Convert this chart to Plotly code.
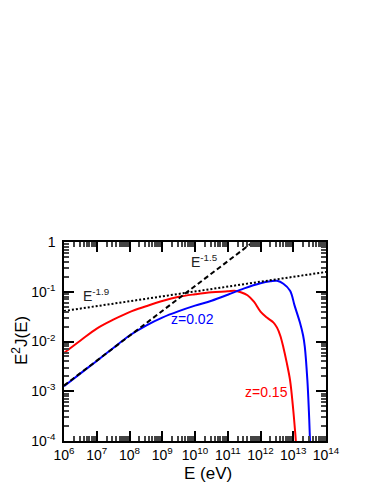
import plotly.graph_objects as go

# blue curve, z = 0.02
blue_e = [1e6, 3.2e6, 1e7, 3.2e7, 1e8, 3.2e8, 1e9, 3.2e9, 1e10, 3.2e10, 1e11, 3.2e11,
          1e12, 2e12, 3.2e12, 5e12, 8e12, 1.1e13, 1.6e13, 2e13, 2.25e13, 2.7e13,
          3e13, 3.25e13, 3.4e13]
blue_j = [1.26e-3, 2.29e-3, 4.07e-3, 7.4e-3, 1.32e-2, 2.09e-2, 3.02e-2, 4.07e-2,
          5.25e-2, 6.6e-2, 8.7e-2, 0.117, 0.148, 0.162, 0.166, 0.145, 0.105,
          0.0525, 0.024, 0.0132, 7.9e-3, 1.66e-3, 4e-4, 1e-4, 3.2e-5]

# red curve, z = 0.15
red_e = [1e6, 3.2e6, 1e7, 3.2e7, 1e8, 3.2e8, 1e9, 3.2e9, 1e10, 3.2e10, 1e11, 1.6e11,
         2.5e11, 4e11, 6.3e11, 1e12, 1.6e12, 2.5e12, 3.2e12, 4e12, 5e12, 6.3e12,
         8e12, 1e13, 1.12e13, 1.2e13, 1.26e13]
red_j = [5.9e-3, 1.05e-2, 1.82e-2, 2.75e-2, 3.9e-2, 5.1e-2, 6.5e-2, 7.9e-2, 8.9e-2,
         9.8e-2, 0.102, 0.105, 0.098, 0.085, 0.063, 0.040, 0.030, 0.024, 0.019,
         0.0132, 7.6e-3, 3.8e-3, 1.66e-3, 4.2e-4, 1.78e-4, 1e-4, 5e-5]

# reference power laws (end points)
slope15_e = [1e6, 1e12]
slope15_j = [1.3e-3, 1.3]
slope19_e = [1e6, 1e14]
slope19_j = [0.041, 0.25]

x_ticks = [1e6, 1e7, 1e8, 1e9, 1e10, 1e11, 1e12, 1e13, 1e14]
x_text = ["10<sup>%d</sup>" % n for n in range(6, 15)]
y_ticks = [1e-4, 1e-3, 1e-2, 1e-1, 1]
y_text = ["10<sup>-4</sup>", "10<sup>-3</sup>", "10<sup>-2</sup>", "10<sup>-1</sup>", "1"]

# minor tick positions 2..9 in every decade
x_minor = [m * t for t in x_ticks[:-1] for m in range(2, 10)]
y_minor = [m * t for t in y_ticks[:-1] for m in range(2, 10)]

FONT = "Liberation Sans, Arial, sans-serif"

fig = go.Figure()
fig.add_trace(go.Scatter(x=red_e, y=red_j, mode="lines", line_shape="spline",
                         line=dict(color="#ff0000", width=2)))
fig.add_trace(go.Scatter(x=blue_e, y=blue_j, mode="lines", line_shape="spline",
                         line=dict(color="#0000ff", width=2)))
fig.add_trace(go.Scatter(x=slope19_e, y=slope19_j, mode="lines",
                         line=dict(color="black", width=2, dash="2px,2px")))
fig.add_trace(go.Scatter(x=slope15_e, y=slope15_j, mode="lines",
                         line=dict(color="black", width=2, dash="5px,3px")))

axis_common = dict(
    type="log", showgrid=False, zeroline=False,
    showline=True, linecolor="black", linewidth=1.5, mirror="allticks",
    ticks="inside", ticklen=10, tickcolor="#000000", tickwidth=1.5,
    tickfont=dict(family=FONT, size=14, color="black"),
)

fig.update_xaxes(range=[6, 14], tickmode="array", tickvals=x_ticks, ticktext=x_text,
                 minor=dict(ticks="inside", ticklen=5, tickcolor="#444444", tickwidth=1.5,
                            tickmode="array", tickvals=x_minor),
                 **axis_common)
fig.update_yaxes(range=[-4, 0], tickmode="array", tickvals=y_ticks, ticktext=y_text,
                 ticklabelstandoff=4,
                 minor=dict(ticks="inside", ticklen=5, tickcolor="#444444", tickwidth=1.5,
                            tickmode="array", tickvals=y_minor),
                 **axis_common)

# labels on the plot
fig.add_annotation(x=6.98, y=-1.07, xref="x", yref="y", text="E<sup>-1.9</sup>",
                   showarrow=False, font=dict(family=FONT, size=14, color="#222"))
fig.add_annotation(x=10.28, y=-0.38, xref="x", yref="y", text="E<sup>-1.5</sup>",
                   showarrow=False, font=dict(family=FONT, size=14, color="#222"))
fig.add_annotation(x=9.92, y=-1.55, xref="x", yref="y", text="z=0.02",
                   showarrow=False, font=dict(family=FONT, size=14, color="#0000ff"))
fig.add_annotation(x=12.18, y=-3.01, xref="x", yref="y", text="z=0.15",
                   showarrow=False, font=dict(family=FONT, size=14, color="#ff0000"))

# page offset (body margin) and plot box in page pixels
OFF = 8
W, H = 374 - OFF, 484 - OFF
L, R, T, B = 64 - OFF, 48, 242 - OFF, 43
pw, ph = W - L - R, H - T - B

# axis titles placed by page pixel position
fig.add_annotation(x=20, y=341, xref="paper", yref="paper", text="E<sup>2</sup>J(E)",
                   showarrow=False, textangle=-90, xanchor="center", yanchor="middle",
                   font=dict(family=FONT, size=17, color="black"))
fig.add_annotation(x=208, y=473, xref="paper", yref="paper", text="E (eV)",
                   showarrow=False, xanchor="center", yanchor="middle",
                   font=dict(family=FONT, size=17, color="black"))
for ann in fig.layout.annotations[-2:]:
    ann.x = (ann.x - OFF - L) / pw
    ann.y = (H - B - (ann.y - OFF)) / ph

fig.update_layout(
    width=W, height=H, showlegend=False,
    margin=dict(l=L, r=R, t=T, b=B),
    plot_bgcolor="white", paper_bgcolor="white",
)

fig.write_html("out.html")
